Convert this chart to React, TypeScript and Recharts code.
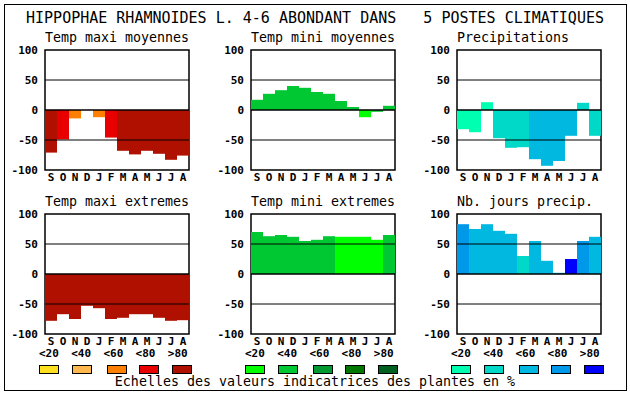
import React from 'react';
import { BarChart, Bar, XAxis, YAxis, Cell, ReferenceLine, ReferenceArea } from 'recharts';

const months = ['S', 'O', 'N', 'D', 'J', 'F', 'M', 'A', 'M', 'J', 'J', 'A'];
const yTicks = [-100, -50, 0, 50, 100];
const classLabels = ['<20', '<40', '<60', '<80', '>80'];

const maxiMoyValues = [-71, -49, -14, -3, -12, -46, -68, -74, -68, -73, -83, -76];
const maxiMoyClasses = [4, 3, 2, -1, 2, 3, 4, 4, 4, 4, 4, 4];

const miniMoyValues = [17, 27, 33, 40, 37, 30, 27, 15, 5, -12, -3, 7];
const miniMoyClasses = [1, 1, 1, 1, 1, 1, 1, 1, 1, 0, 1, 1];

const precipValues = [-32, -37, 13, -47, -63, -62, -82, -93, -85, -43, 12, -43];
const precipClasses = [0, 0, 0, 1, 1, 1, 2, 2, 2, 2, 1, 1];

const maxiExtValues = [-78, -67, -75, -53, -57, -75, -73, -67, -67, -73, -78, -77];
const maxiExtClasses = [4, 4, 4, 4, 4, 4, 4, 4, 4, 4, 4, 4];

const miniExtValues = [70, 63, 65, 62, 55, 57, 63, 62, 62, 62, 57, 65];
const miniExtClasses = [1, 1, 1, 1, 1, 1, 1, 0, 0, 0, 0, 1];

const joursValues = [83, 75, 83, 72, 67, 30, 55, 22, 2, 25, 55, 62];
const joursClasses = [3, 2, 2, 2, 2, 1, 2, 2, 2, 4, 3, 2];

const redPalette = ['#ffe020', '#ffb850', '#ff8000', '#e80000', '#b01000'];
const greenPalette = ['#00ff00', '#00c832', '#009830', '#007800', '#006020'];
const bluePalette = ['#00ffb0', '#00d8c8', '#00b8e0', '#0098e8', '#0000ff'];

const MONO = '"DejaVu Sans Mono", monospace';

const BOX_W = 144;
const BOX_H = 120;
const Y_AXIS_W = 40;
const TOP_M = 10;

type PanelProps = {
  title: string;
  values: number[];
  classes: number[];
  palette: string[];
  boxX: number;
  boxY: number;
};

function Panel({ title, values, classes, palette, boxX, boxY }: PanelProps) {
  const data = months.map((m, i) => ({ m, v: values[i], c: classes[i] }));
  const tickStyle = { fontFamily: MONO, fontSize: 11, fontWeight: 'bold', fill: '#000' };
  return (
    <>
      <div
        style={{
          position: 'absolute',
          left: boxX,
          top: boxY - 19,
          fontFamily: MONO,
          fontSize: 13.3,
          lineHeight: '14px',
          whiteSpace: 'pre',
          color: '#000',
        }}
      >
        {title}
      </div>
      <div style={{ position: 'absolute', left: boxX - Y_AXIS_W, top: boxY - TOP_M }}>
        <BarChart
          width={Y_AXIS_W + BOX_W + 10}
          height={TOP_M + BOX_H + 20}
          data={data}
          margin={{ top: TOP_M, right: 10, bottom: 0, left: 0 }}
          barCategoryGap={0}
        >
          <XAxis
            dataKey="m"
            interval={0}
            axisLine={false}
            tickLine={false}
            tickSize={1}
            tickMargin={2}
            height={20}
            tick={tickStyle}
            allowDuplicatedCategory={true}
          />
          <YAxis
            type="number"
            domain={[-100, 100]}
            ticks={yTicks}
            interval={0}
            axisLine={false}
            tickLine={false}
            tickSize={5}
            tickMargin={2}
            width={Y_AXIS_W}
            tick={tickStyle}
          />
          <Bar dataKey="v" isAnimationActive={false}>
            {data.map((d, i) => (
              <Cell key={i} fill={d.c < 0 ? '#ffffff' : palette[d.c]} />
            ))}
          </Bar>
          <ReferenceLine y={50} stroke="#000" strokeWidth={1} />
          <ReferenceLine y={0} stroke="#000" strokeWidth={1.5} />
          <ReferenceLine y={-50} stroke="#000" strokeWidth={1} />
          <ReferenceArea y1={-100} y2={100} fill="none" stroke="#000" strokeWidth={1.5} />
        </BarChart>
      </div>
    </>
  );
}

function LegendGroup({ x, palette }: { x: number; palette: string[] }) {
  const boxOffsets = [0, 32.5, 68, 100, 132.5];
  return (
    <>
      {classLabels.map((l, i) => (
        <div
          key={'l' + i}
          style={{
            position: 'absolute',
            left: x + i * 32.2,
            top: 347,
            fontFamily: MONO,
            fontSize: 11,
            fontWeight: 'bold',
            lineHeight: '14px',
            whiteSpace: 'pre',
          }}
        >
          {l}
        </div>
      ))}
      {palette.map((c, i) => (
        <div
          key={'b' + i}
          style={{
            position: 'absolute',
            left: x + boxOffsets[i],
            top: 365,
            width: 20,
            height: 9,
            boxSizing: 'border-box',
            border: '1px solid #000',
            background: c,
          }}
        />
      ))}
    </>
  );
}

export default function App() {
  return (
    <div
      style={{
        position: 'absolute',
        left: 0,
        top: 0,
        width: 630,
        height: 394,
        background: '#fff',
        overflow: 'hidden',
      }}
    >
      <div
        style={{
          position: 'absolute',
          left: 4,
          top: 4,
          width: 623,
          height: 387,
          boxSizing: 'border-box',
          border: '1px solid #000',
        }}
      />
      <div
        style={{
          position: 'absolute',
          left: 0,
          width: 630,
          top: 10,
          textAlign: 'center',
          fontFamily: MONO,
          fontSize: 15,
          lineHeight: '16px',
          whiteSpace: 'pre',
        }}
      >
        {'HIPPOPHAE RHAMNOIDES L. 4-6 ABONDANT DANS   5 POSTES CLIMATIQUES'}
      </div>
      <Panel title="Temp maxi moyennes" values={maxiMoyValues} classes={maxiMoyClasses} palette={redPalette} boxX={45} boxY={50} />
      <Panel title="Temp mini moyennes" values={miniMoyValues} classes={miniMoyClasses} palette={greenPalette} boxX={251} boxY={50} />
      <Panel title="Precipitations" values={precipValues} classes={precipClasses} palette={bluePalette} boxX={457} boxY={50} />
      <Panel title="Temp maxi extremes" values={maxiExtValues} classes={maxiExtClasses} palette={redPalette} boxX={45} boxY={214} />
      <Panel title="Temp mini extremes" values={miniExtValues} classes={miniExtClasses} palette={greenPalette} boxX={251} boxY={214} />
      <Panel title="Nb. jours precip." values={joursValues} classes={joursClasses} palette={bluePalette} boxX={457} boxY={214} />
      <LegendGroup x={39} palette={redPalette} />
      <LegendGroup x={245} palette={greenPalette} />
      <LegendGroup x={451} palette={bluePalette} />
      <div
        style={{
          position: 'absolute',
          left: 0,
          width: 630,
          top: 375,
          textAlign: 'center',
          fontFamily: MONO,
          fontSize: 13.3,
          lineHeight: '14px',
          whiteSpace: 'pre',
        }}
      >
        {'Echelles des valeurs indicatrices des plantes en %'}
      </div>
    </div>
  );
}
